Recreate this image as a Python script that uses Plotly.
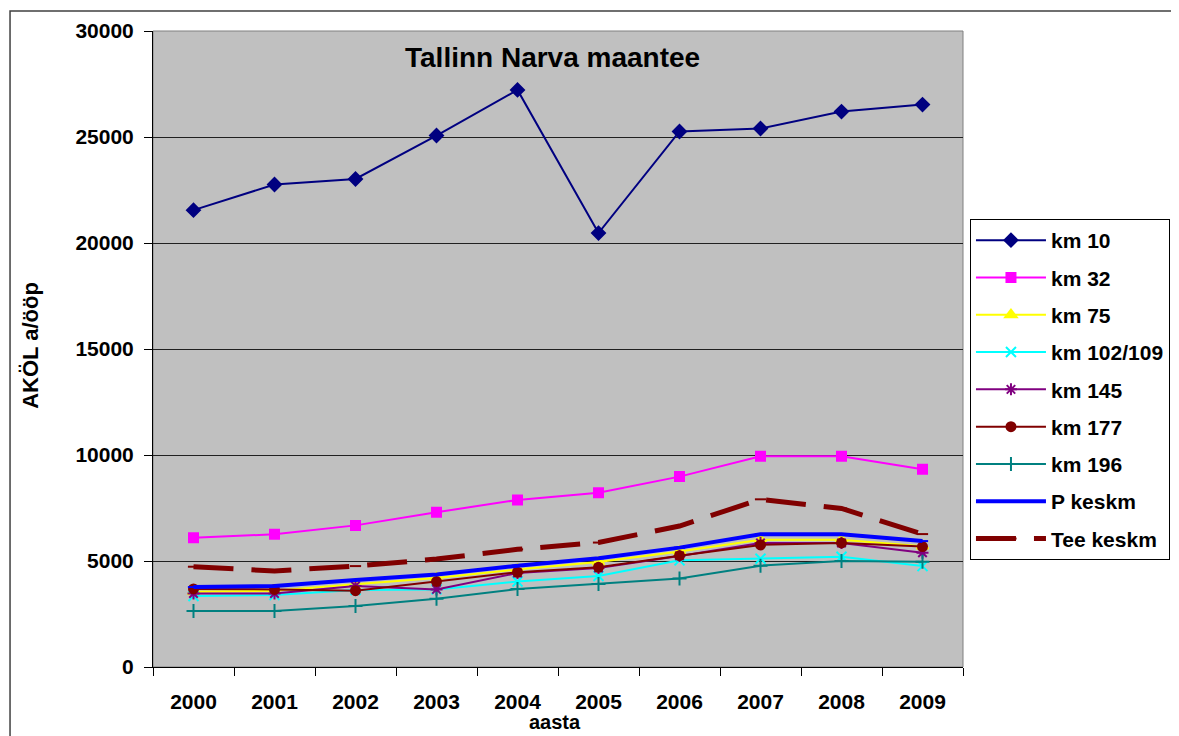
import plotly.graph_objects as go

# Data
years = ['2000', '2001', '2002', '2003', '2004', '2005', '2006', '2007', '2008', '2009']
km10 = [21550, 22760, 23020, 25070, 27220, 20470, 25260, 25400, 26200, 26530]
km32 = [6100, 6260, 6680, 7300, 7880, 8220, 8980, 9940, 9940, 9330]
km75 = [3550, 3600, 3900, 4200, 4600, 4950, 5450, 6000, 6000, 5700]
km102 = [3350, 3400, 3630, 3660, 4030, 4290, 5030, 5110, 5200, 4760]
km145 = [3470, 3470, 3820, 3660, 4430, 4670, 5240, 5850, 5850, 5390]
km177 = [3680, 3660, 3600, 4030, 4470, 4700, 5250, 5760, 5850, 5680]
km196 = [2640, 2640, 2880, 3220, 3680, 3920, 4170, 4780, 5000, 4970]
p_keskm = [3770, 3820, 4100, 4360, 4780, 5130, 5630, 6260, 6260, 5940]
tee_keskm = [4730, 4530, 4760, 5090, 5550, 5870, 6650, 7910, 7480, 6270]

font_family = 'Liberation Sans, Arial, sans-serif'

series = [
    ('km 10', km10, '#000080', 'diamond', 10, 2, None),
    ('km 32', km32, '#FF00FF', 'square', 9, 2, None),
    ('km 75', km75, '#FFFF00', 'triangle-up', 10, 2, None),
    ('km 102/109', km102, '#00FFFF', 'x-thin-open', 10, 2, None),
    ('km 145', km145, '#800080', 'asterisk-open', 10, 2, None),
    ('km 177', km177, '#800000', 'circle', 9, 2, None),
    ('km 196', km196, '#008080', 'cross-thin-open', 10, 2, None),
    ('P keskm', p_keskm, '#0000FF', 'line-ew-open', 8, 4, None),
    ('Tee keskm', tee_keskm, '#800000', 'line-ew-open', 8, 5, '40px,18px'),
]

fig = go.Figure()
for name, vals, color, symbol, size, width, dash in series:
    fig.add_trace(go.Scatter(
        x=years, y=vals, name=name, mode='lines+markers',
        legendgroup=name,
        line=dict(color=color, width=width, dash=dash),
        marker=dict(symbol=symbol, size=size, color=color,
                    line=dict(color=color, width=2)),
    ))

# page body adds an 8px offset, so the figure is 8px smaller on each side
fig.update_layout(
    width=1171, height=728,
    margin=dict(l=145, r=216, t=23, b=69, autoexpand=False),
    paper_bgcolor='white',
    plot_bgcolor='#C0C0C0',
    font=dict(family=font_family, color='black'),
    showlegend=True,
    legend=dict(
        x=1.0086, y=0.7044, xanchor='left', yanchor='top',
        bgcolor='white', bordercolor='black', borderwidth=1,
        font=dict(size=21, weight='bold', family=font_family),
        itemwidth=70, tracegroupgap=7,
    ),
)

fig.update_xaxes(
    type='category', tickson='boundaries', ticks='outside', ticklen=8,
    tickcolor='black', showline=True, linecolor='black', linewidth=1,
    showgrid=False, tickfont=dict(size=21, weight='bold'),
    ticklabelstandoff=16,
    range=[-0.5, 9.5],
)
fig.update_yaxes(
    range=[0, 30000], dtick=5000, tickformat='d', ticks='outside', ticklen=8,
    tickcolor='black', showline=True, linecolor='black', linewidth=1,
    gridcolor='#202020', gridwidth=1, zeroline=False,
    tickfont=dict(size=21, weight='bold'),
    ticklabelstandoff=6,
)

# plot area frame (top/right) and outer chart border
fig.add_shape(type='rect', xref='paper', yref='paper', x0=0, x1=1, y0=0, y1=1,
              line=dict(color='#808080', width=1), layer='below')
fig.add_shape(type='rect', xref='paper', yref='paper',
              x0=-0.1765, x1=1.3, y0=-0.15, y1=1.0314,
              line=dict(color='#404040', width=1.5))

fig.add_annotation(text='Tallinn Narva maantee', xref='paper', yref='paper',
                   x=0.4926, y=0.959, xanchor='center', yanchor='middle',
                   showarrow=False, font=dict(size=28, weight='bold'))
fig.add_annotation(text='AKÖL a/ööp', xref='paper', yref='paper',
                   x=-0.1506, y=0.505, xanchor='center', yanchor='middle',
                   showarrow=False, textangle=-90,
                   font=dict(size=22, weight='bold'))
fig.add_annotation(text='aasta', xref='paper', yref='paper',
                   x=0.496, y=-0.0865, xanchor='center', yanchor='middle',
                   showarrow=False, font=dict(size=20, weight='bold'))

fig.write_html("out.html")
